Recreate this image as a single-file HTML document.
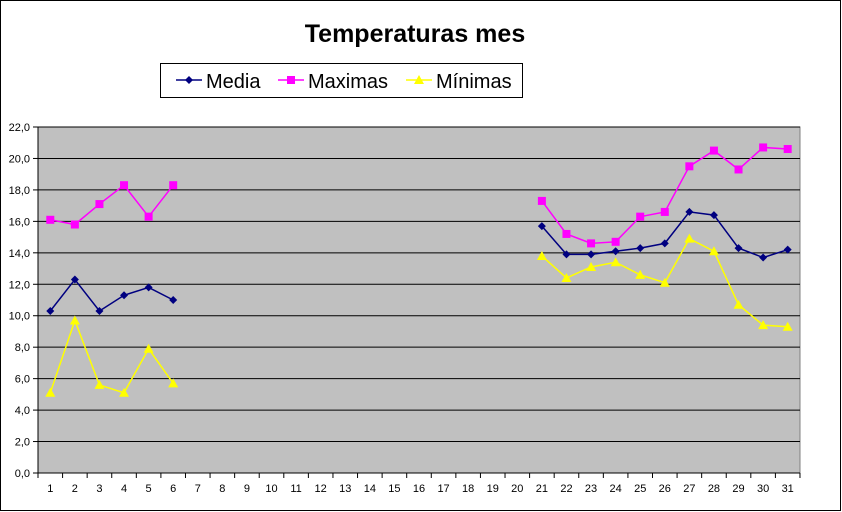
<!DOCTYPE html>
<html><head><meta charset="utf-8"><style>
body{margin:0;background:#fff;}
svg{display:block;font-family:"Liberation Sans",Arial,sans-serif;}
</style></head><body>
<svg id="s" width="842" height="512" xmlns="http://www.w3.org/2000/svg">
<rect x="0.5" y="0.5" width="840" height="510" fill="#fff" stroke="#000" stroke-width="1"/>
<text x="415" y="42" text-anchor="middle" font-size="25" font-weight="bold">Temperaturas mes</text>
<rect x="160.5" y="63.5" width="362" height="34" fill="#fff" stroke="#000"/>
<line x1="176" y1="80" x2="202" y2="80" stroke="#000080" stroke-width="1.5"/>
<path d="M189 76 L193 80 L189 84 L185 80Z" fill="#000080"/>
<text x="206" y="88" font-size="20">Media</text>
<line x1="278" y1="80" x2="304" y2="80" stroke="#ff00ff" stroke-width="1.5"/>
<rect x="287" y="76" width="8" height="8" fill="#ff00ff"/>
<text x="308" y="88" font-size="20">Maximas</text>
<line x1="406" y1="80" x2="432" y2="80" stroke="#ffff00" stroke-width="1.5"/>
<path d="M419 75 L424 84 L414 84Z" fill="#ffff00"/>
<text x="436" y="88" font-size="20">Mínimas</text>
<rect x="38" y="127" width="762" height="346" fill="#c0c0c0" stroke="#808080"/>
<g id="g"></g>
</svg>
<script>
var g=document.getElementById('g'),h='';
var X=function(i){return 38+(i-0.5)*24.58},Y=function(v){return 473-v*15.727};
for(var v=0;v<=22;v+=2){var y=Y(v);h+='<line x1="38" x2="800" y1="'+y+'" y2="'+y+'" stroke="#000" stroke-width="1"/>';
h+='<line x1="33" x2="38" y1="'+y+'" y2="'+y+'" stroke="#000"/>';
h+='<text x="30" y="'+(y+4)+'" font-size="11" text-anchor="end">'+v.toFixed(1).replace('.',',')+'</text>';}
h+='<line x1="38" x2="38" y1="127" y2="473" stroke="#000"/><line x1="38" x2="800" y1="473" y2="473" stroke="#000"/>';
for(var i=0;i<=31;i++){var x=38+i*24.58;h+='<line x1="'+x+'" x2="'+x+'" y1="473" y2="478" stroke="#000"/>';}
for(var i=1;i<=31;i++)h+='<text x="'+X(i)+'" y="492" font-size="11" text-anchor="middle">'+i+'</text>';
var idx=[1,2,3,4,5,6,21,22,23,24,25,26,27,28,29,30,31];
var S=[['#ff00ff','sq',[16.1,15.8,17.1,18.3,16.3,18.3,17.3,15.2,14.6,14.7,16.3,16.6,19.5,20.5,19.3,20.7,20.6]],
['#000080','di',[10.3,12.3,10.3,11.3,11.8,11.0,15.7,13.9,13.9,14.1,14.3,14.6,16.6,16.4,14.3,13.7,14.2]],
['#ffff00','tr',[5.1,9.7,5.6,5.1,7.9,5.7,13.8,12.4,13.1,13.4,12.6,12.1,14.9,14.1,10.7,9.4,9.3]]];
S.forEach(function(s){
 [[0,6],[6,17]].forEach(function(r){var p=[];for(var k=r[0];k<r[1];k++)p.push(X(idx[k])+','+Y(s[2][k]));
 h+='<polyline points="'+p.join(' ')+'" fill="none" stroke="'+s[0]+'" stroke-width="1.5"/>';});
 for(var k=0;k<17;k++){var x=X(idx[k]),y=Y(s[2][k]);
  if(s[1]=='sq')h+='<rect x="'+(x-4)+'" y="'+(y-4)+'" width="8" height="8" fill="'+s[0]+'"/>';
  else if(s[1]=='di')h+='<path d="M'+x+' '+(y-4)+'L'+(x+4)+' '+y+'L'+x+' '+(y+4)+'L'+(x-4)+' '+y+'Z" fill="'+s[0]+'"/>';
  else h+='<path d="M'+x+' '+(y-5)+'L'+(x+5)+' '+(y+4)+'L'+(x-5)+' '+(y+4)+'Z" fill="'+s[0]+'"/>';}
});
g.innerHTML=h;
</script>
</body></html>
